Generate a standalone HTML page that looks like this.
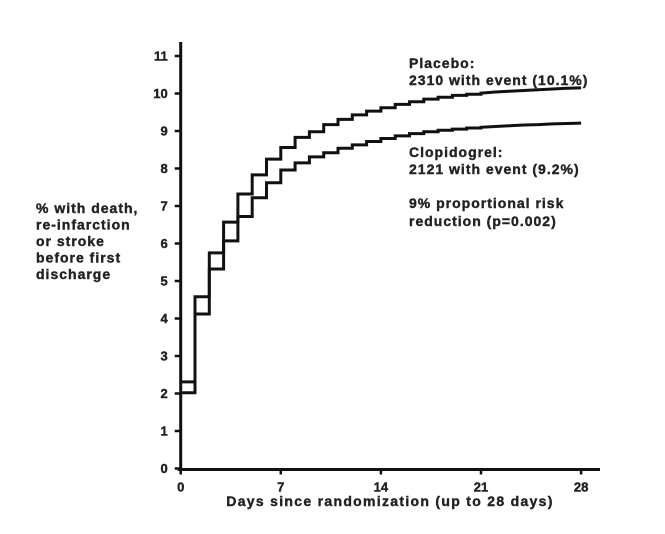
<!DOCTYPE html>
<html><head><meta charset="utf-8"><style>
body{margin:0;background:#fff;}
svg text{font-family:"Liberation Sans",Arial,sans-serif;font-weight:bold;fill:#222;stroke:#222;stroke-width:0.4;}
</style></head><body>
<svg id="chart" width="665" height="529" viewBox="0 0 665 529">
<g id="axes"></g>
<g id="series"></g>
<g font-size="14" letter-spacing="1">
<text x="409" y="68">Placebo:</text>
<text x="409" y="85">2310 with event (10.1%)</text>
<text x="409" y="157">Clopidogrel:</text>
<text x="409" y="174">2121 with event (9.2%)</text>
<text x="409" y="208">9% proportional risk</text>
<text x="409" y="226">reduction (p=0.002)</text>
</g>
<g font-size="14" letter-spacing="1">
<text x="36" y="213">% with death,</text>
<text x="36" y="229.5">re-infarction</text>
<text x="36" y="246">or stroke</text>
<text x="36" y="262.5">before first</text>
<text x="36" y="279">discharge</text>
</g>
<text x="390" y="506" font-size="14" letter-spacing="1.3" text-anchor="middle">Days since randomization (up to 28 days)</text>
</svg>
<script>
const yTicks=[0,1,2,3,4,5,6,7,8,9,10,11];
const xTicks=[0,7,14,21,28];
const days=[0,1,2,3,4,5,6,7,8,9,10,11,12,13,14,15,16,17,18,19,20,21,22,23,24,25,26,27,28];
const placebo=[2.31,4.58,5.75,6.57,7.32,7.83,8.25,8.56,8.83,8.98,9.17,9.31,9.43,9.53,9.62,9.71,9.78,9.85,9.9,9.95,9.98,10.01,10.04,10.06,10.08,10.1,10.12,10.14,10.15];
const clopidogrel=[2.02,4.12,5.32,6.07,6.72,7.22,7.62,7.96,8.15,8.31,8.42,8.54,8.63,8.72,8.8,8.87,8.93,8.98,9.02,9.05,9.08,9.1,9.12,9.14,9.16,9.17,9.19,9.2,9.21];
const stepUntil=21;
const X=d=>180.7+d*14.3;
const Y=v=>468.5-v*37.5;
const NS="http://www.w3.org/2000/svg";
function mk(tag,attrs,parent){const e=document.createElementNS(NS,tag);for(const k in attrs)e.setAttribute(k,attrs[k]);parent.appendChild(e);return e;}
const ax=document.getElementById('axes');
let l=mk('line',{x1:X(0),y1:Y(0)+1,x2:X(0),y2:42,stroke:'#111','stroke-width':3},ax);


l=mk('line',{x1:X(0)-3,y1:Y(0)+1,x2:600,y2:Y(0)+1,stroke:'#111','stroke-width':3},ax);


yTicks.forEach(v=>{
 const t=mk('line',{x1:X(0)-6,y1:Y(v),x2:X(0),y2:Y(v),stroke:'#111','stroke-width':2.5},ax);
 
 
 const tx=mk('text',{x:X(0)-13,y:Y(v)+4.5,'font-size':13,'text-anchor':'end'},ax);
 tx.textContent=v;
 
 
});
xTicks.forEach(d=>{
 const t=mk('line',{x1:X(d),y1:Y(0),x2:X(d),y2:Y(0)+6,stroke:'#111','stroke-width':2.5},ax);
 
 
 const tx=mk('text',{x:X(d),y:Y(0)+23,'font-size':13,'text-anchor':'middle'},ax);
 tx.textContent=d;
 
 
});
const sg=document.getElementById('series');
function pathFor(vals){
 let p='M'+X(0)+','+Y(vals[0]);
 for(let i=1;i<days.length;i++){
  if(days[i]<=stepUntil){p+=' L'+X(days[i])+','+Y(vals[i-1])+' L'+X(days[i])+','+Y(vals[i]);}
  else p+=' L'+X(days[i])+','+Y(vals[i]);
 }
 return p;
}
let p=mk('path',{d:pathFor(placebo),fill:'none',stroke:'#111','stroke-width':3},sg);


p=mk('path',{d:pathFor(clopidogrel),fill:'none',stroke:'#111','stroke-width':3},sg);


</script>
</body></html>
